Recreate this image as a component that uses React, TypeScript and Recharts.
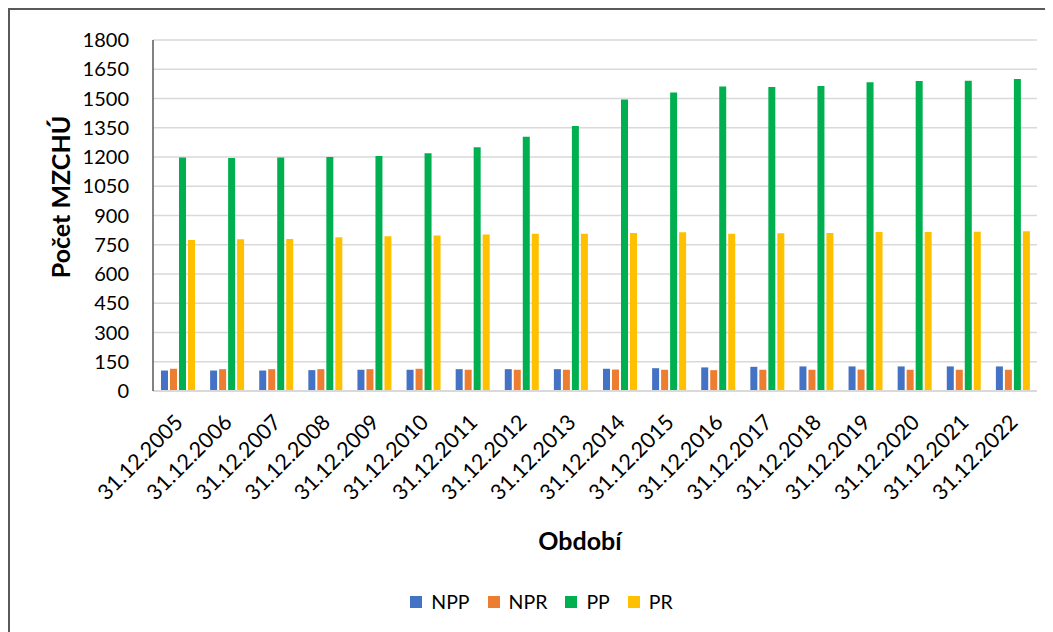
import React from 'react';
import {
  BarChart,
  Bar,
  XAxis,
  YAxis,
  CartesianGrid,
  Legend,
} from 'recharts';

const categories = [
  '31.12.2005', '31.12.2006', '31.12.2007', '31.12.2008', '31.12.2009', '31.12.2010',
  '31.12.2011', '31.12.2012', '31.12.2013', '31.12.2014', '31.12.2015', '31.12.2016',
  '31.12.2017', '31.12.2018', '31.12.2019', '31.12.2020', '31.12.2021', '31.12.2022',
];
const npp = [105, 105, 105, 107, 109, 109, 112, 112, 112, 114, 117, 121, 124, 126, 126, 126, 126, 126];
const npr = [114, 112, 112, 112, 112, 114, 109, 109, 109, 110, 109, 107, 109, 109, 110, 109, 109, 109];
const pp = [1197, 1195, 1197, 1200, 1205, 1219, 1250, 1304, 1359, 1495, 1531, 1562, 1559, 1564, 1583, 1590, 1591, 1600];
const pr = [774, 778, 779, 788, 793, 798, 802, 807, 807, 810, 814, 807, 809, 810, 815, 815, 817, 819];
const yTicks = [0, 150, 300, 450, 600, 750, 900, 1050, 1200, 1350, 1500, 1650, 1800];

const data = categories.map((period, i) => ({
  period,
  NPP: npp[i],
  NPR: npr[i],
  PP: pp[i],
  PR: pr[i],
}));

const FONT = 'Lato, "Open Sans", sans-serif';
const FRAME = '#595959';

// rotated date labels, end of text sits under the category centre
const DateTick = ({ x, y, payload }: any) => (
  <g transform={`translate(${x + 1},${y + 27})`}>
    <text
      transform="rotate(-45)"
      textAnchor="end"
      dominantBaseline="central"
      fontSize={21.5}
      fontFamily={FONT}
      fill="#000"
    >
      {payload.value}
    </text>
  </g>
);

const LegendRow = ({ payload }: any) => (
  <div style={{ display: 'flex', justifyContent: 'center', gap: 18, fontFamily: FONT, fontSize: 19.5, color: '#000' }}>
    {(payload ?? []).map((p: any) => (
      <div key={p.value} style={{ display: 'flex', alignItems: 'center' }}>
        <span style={{ width: 12, height: 12, background: p.color, marginRight: 9, display: 'inline-block' }} />
        <span>{p.value}</span>
      </div>
    ))}
  </div>
);

export default function App() {
  return (
    <div style={{ borderTop: `2px solid ${FRAME}`, borderLeft: `2px solid ${FRAME}`, height: 622 }}>
      <BarChart
        width={1035}
        height={620}
        data={data}
        margin={{ top: 30, right: 8, left: 0, bottom: 0 }}
        barSize={7}
        barGap={2}
      >
        <CartesianGrid vertical={false} stroke="#d9d9d9" strokeWidth={1.5} />
        <XAxis
          dataKey="period"
          height={239}
          interval={0}
          tickLine={false}
          tickSize={0}
          tickMargin={0}
          axisLine={{ stroke: '#d9d9d9', strokeWidth: 2 }}
          tick={<DateTick />}
          label={{
            content: () => (
              <text
                x={570}
                y={530}
                textAnchor="middle"
                dominantBaseline="central"
                fontSize={25}
                fontWeight="bold"
                fontFamily={FONT}
                fill="#000"
              >
                Období
              </text>
            ),
          }}
        />
        <XAxis xAxisId="top" dataKey="period" orientation="top" height={0} tick={false} tickLine={false} axisLine={{ stroke: FRAME, strokeWidth: 1.5 }} />
        <YAxis
          width={143}
          domain={[0, 1800]}
          ticks={yTicks}
          interval={0}
          tickLine={false}
          tickSize={0}
          tickMargin={24}
          axisLine={{ stroke: FRAME, strokeWidth: 1.5 }}
          tick={{ fontSize: 20, fill: '#000', fontFamily: FONT }}
          label={{
            content: () => (
              <text
                x={50}
                y={187}
                transform="rotate(-90, 50, 187)"
                textAnchor="middle"
                dominantBaseline="central"
                fontSize={25}
                fontWeight="bold"
                fontFamily={FONT}
                fill="#000"
              >
                Počet MZCHÚ
              </text>
            ),
          }}
        />
        <YAxis yAxisId="right" orientation="right" width={0} domain={[0, 1800]} tick={false} tickLine={false} axisLine={{ stroke: FRAME, strokeWidth: 1.5 }} />
        <Legend
          layout="horizontal"
          align="center"
          verticalAlign="middle"
          wrapperStyle={{ top: 580, left: 14, width: 1035 }}
          content={<LegendRow />}
        />
        <Bar dataKey="NPP" fill="#4472C4" isAnimationActive={false} />
        <Bar dataKey="NPR" fill="#ED7D31" isAnimationActive={false} />
        <Bar dataKey="PP" fill="#00B050" isAnimationActive={false} />
        <Bar dataKey="PR" fill="#FFC000" isAnimationActive={false} />
      </BarChart>
    </div>
  );
}
